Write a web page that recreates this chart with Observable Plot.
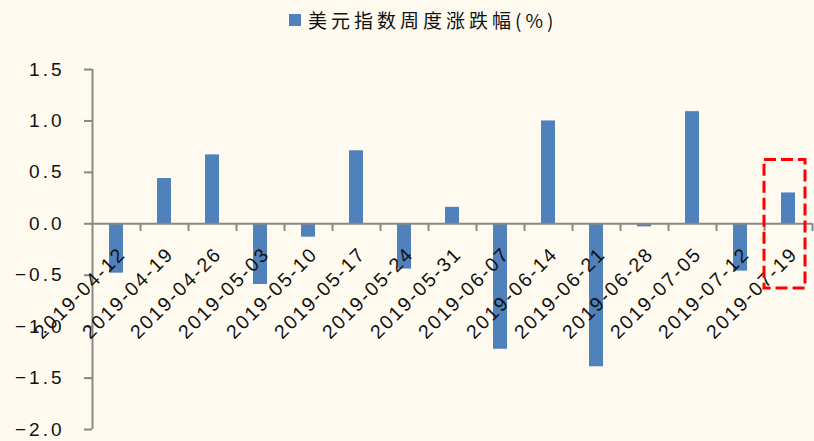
<!DOCTYPE html>
<html>
<head>
<meta charset="utf-8">
<script src="https://cdn.jsdelivr.net/npm/d3@7"></script>
<script src="https://cdn.jsdelivr.net/npm/@observablehq/plot@0.6"></script>
<style>
  html, body { margin: 0; padding: 0; background: #FEFAF0; }
  #wrap { position: relative; width: 814px; height: 441px; background: #FEFAF0; overflow: hidden; }
  #legend { position: absolute; left: 289px; top: 6px; display: flex; align-items: center;
            font-family: "Noto Sans CJK SC", sans-serif; font-size: 19px; letter-spacing: 4px; color: #111; }
  #legend .sw { width: 12px; height: 12px; background: #4F81BD; margin-right: 7px; }
  svg g[aria-label="y-axis tick label"] text { letter-spacing: 3px; }
  svg g.xlab text { letter-spacing: 2px; }
</style>
</head>
<body>
<div id="wrap">
  <div id="legend"><span class="sw"></span><span id="legend-text"></span></div>
</div>
<script>
// Weekly change of the US dollar index, in percent
const dates = [
  "2019-04-12", "2019-04-19", "2019-04-26", "2019-05-03", "2019-05-10",
  "2019-05-17", "2019-05-24", "2019-05-31", "2019-06-07", "2019-06-14",
  "2019-06-21", "2019-06-28", "2019-07-05", "2019-07-12", "2019-07-19"
];
const changes = [
  -0.48, 0.44, 0.67, -0.59, -0.13,
  0.71, -0.44, 0.16, -1.22, 1.00,
  -1.39, -0.03, 1.09, -0.46, 0.30
];
const yTicks = [1.5, 1.0, 0.5, 0.0, -0.5, -1.0, -1.5, -2.0];
const legendLabel = "美元指数周度涨跌幅(%)";

// Dashed box around the latest week
const highlightDate = "2019-07-19";
const highlightLow = -0.63;
const highlightHigh = 0.62;

const rows = dates.map((d, i) => ({date: d, change: changes[i]}));
const highlight = [{date: highlightDate, lo: highlightLow, hi: highlightHigh}];

const axisGray = "#878787";
const blue = "#4F81BD";

const chart = Plot.plot({
  width: 814,
  height: 441,
  marginLeft: 92,
  marginRight: 2,
  marginTop: 69,
  marginBottom: 12,
  style: {background: "transparent", fontFamily: "'Liberation Sans', Arial, sans-serif", color: "#111"},
  x: {type: "band", domain: dates, padding: 0, axis: null},
  y: {domain: [-2, 1.5], axis: null},
  marks: [
    Plot.barY(rows, {x: "date", y: "change", fill: blue, insetLeft: 17, insetRight: 17}),
    // category axis on the zero line, with ticks between weeks
    Plot.ruleY([0], {stroke: axisGray, strokeWidth: 2}),
    Plot.ruleX(dates, {x: d => d, y1: 0, y2: -0.075, dx: 24, stroke: axisGray, strokeWidth: 2}),
    // value axis
    Plot.ruleX([dates[0]], {x: d => d, y1: -2, y2: 1.5, dx: -24, stroke: axisGray, strokeWidth: 2}),
    Plot.axisY({
      ticks: yTicks,
      tickSize: 8,
      tickPadding: 20,
      tickFormat: d3.format(".1f"),
      fontSize: 19,
      stroke: axisGray,
      strokeWidth: 2,
      fill: "#111"
    }),
    Plot.text(rows, {
      x: "date", y: 0, text: "date",
      rotate: -45, textAnchor: "end",
      dx: 6, dy: 27,
      fontSize: 19.5, fill: "#111",
      className: "xlab"
    }),
    Plot.barY(highlight, {
      x: "date", y1: "lo", y2: "hi",
      fill: "none", stroke: "#FF0000", strokeWidth: 3,
      strokeDasharray: "12,5", insetRight: 7
    })
  ]
});

document.getElementById("legend-text").textContent = legendLabel;
document.getElementById("wrap").prepend(chart);
chart.style.position = "absolute";
chart.style.left = "0";
chart.style.top = "0";
</script>
</body>
</html>
